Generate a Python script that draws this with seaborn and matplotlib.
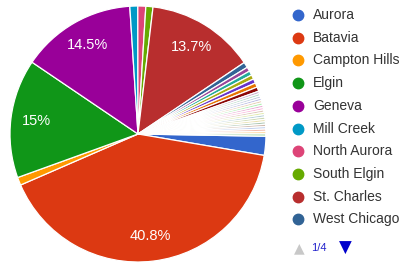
import matplotlib
matplotlib.use("Agg")
import matplotlib.pyplot as plt
from matplotlib.colors import to_rgb
import seaborn as sns

sns.set_theme(style="white")
plt.rcParams['font.family'] = ['Liberation Sans', 'DejaVu Sans']

# ---- data (percent shares) ----
categories = ["Aurora", "Batavia", "Campton Hills", "Elgin", "Geneva",
              "Mill Creek", "North Aurora", "South Elgin", "St. Charles", "West Chicago"]
main_values = [2.4, 40.8, 1.0, 15.0, 14.5, 1.0, 1.0, 0.9, 13.7, 0.7]
# further small communities (legend pages 2-4)
small_values = [0.55, 0.55, 0.55, 0.55, 0.55, 0.55]
tiny_values = [0.3] * 19
values = main_values + small_values + tiny_values

google = ["#3366cc", "#dc3912", "#ff9900", "#109618", "#990099", "#0099c6",
          "#dd4477", "#66aa00", "#b82e2e", "#316395", "#994499", "#22aa99",
          "#aaaa11", "#6633cc", "#e67300", "#8b0707", "#651067", "#329262",
          "#5574a6", "#3b3eac", "#b77322", "#16d620", "#b91383", "#f4359e",
          "#9c5935", "#a9c413", "#2a778d", "#668d1c", "#bea413", "#0c5922",
          "#743411"]

def lighten(c, f):
    rgb = to_rgb(c)
    return tuple(1 - (1 - v) * f for v in rgb)

n_main_small = len(main_values) + len(small_values)
colors = []
for i in range(len(values)):
    c = google[i % len(google)]
    colors.append(c if i < n_main_small else lighten(c, 0.35))

W, H = 417, 264
fig = plt.figure(figsize=(W / 100, H / 100), dpi=100)
cx, cy, r = 138, 134, 128
ax = fig.add_axes([(cx - r) / W, (H - cy - r) / H, 2 * r / W, 2 * r / H])

def fmt(p):
    if p < 5:
        return ""
    s = f"{p:.1f}"
    if s.endswith(".0"):
        s = s[:-2]
    return s + "%"

wedges, texts, autotexts = ax.pie(
    values, colors=colors, startangle=-1, counterclock=False,
    autopct=fmt, pctdistance=0.80,
    wedgeprops=dict(edgecolor="white", linewidth=0.9),
    textprops=dict(color="white", fontsize=10.5))
ax.set_xlim(-1, 1)
ax.set_ylim(-1, 1)
ax.set_aspect("equal")
ax.axis("off")

# ---- legend (page 1 of 4) ----
x_dot, x_txt = 298 / W, 313 / W
y0, dy = 15, 22.7
for i, name in enumerate(categories):
    yy = 1 - (y0 + i * dy) / H
    fig.lines.append(matplotlib.lines.Line2D([x_dot], [yy], marker="o", markersize=7.5,
                                             color=colors[i], transform=fig.transFigure,
                                             linestyle="none"))
    fig.text(x_txt, yy, name, fontsize=10, color="#333333", va="center", ha="left")

yp = 1 - 248 / H
fig.text(299 / W, yp, "▲", fontsize=10, color="#c8c8c8", va="center", ha="center",
         family="DejaVu Sans")
fig.text(319 / W, yp, "1/4", fontsize=8, color="#2222cc", va="center", ha="center")
fig.text(345 / W, yp, "▼", fontsize=12, color="#0000cc", va="center", ha="center",
         family="DejaVu Sans")

fig.savefig("out.png", dpi=100, facecolor="white")
